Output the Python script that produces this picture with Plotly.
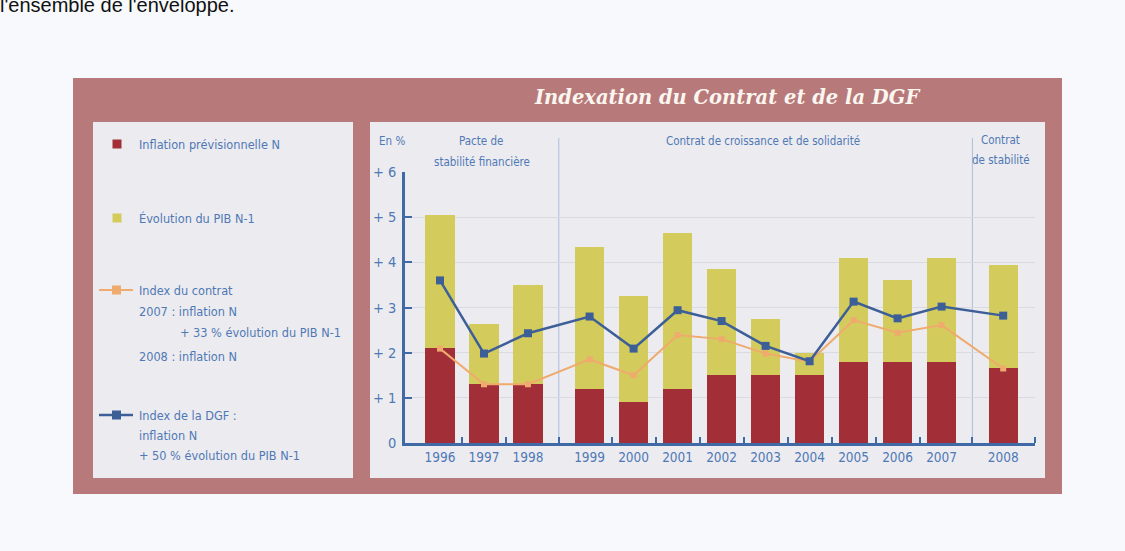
import plotly.graph_objects as go

# ---------------- data ----------------
years = ["1996", "1997", "1998", "1999", "2000", "2001", "2002",
         "2003", "2004", "2005", "2006", "2007", "2008"]
period = [0, 0, 0, 1, 1, 1, 1, 1, 1, 1, 1, 1, 2]
inflation = [2.1, 1.3, 1.3, 1.2, 0.9, 1.2, 1.5, 1.5, 1.5, 1.8, 1.8, 1.8, 1.65]
pib = [2.95, 1.33, 2.2, 3.15, 2.35, 3.45, 2.35, 1.25, 0.5, 2.3, 1.8, 2.3, 2.3]
index_contrat = [2.09, 1.3, 1.3, 1.85, 1.5, 2.39, 2.3, 1.98, 1.8, 2.72, 2.44, 2.61, 1.65]
index_dgf = [3.6, 1.98, 2.43, 2.8, 2.09, 2.94, 2.7, 2.15, 1.81, 3.13, 2.76, 3.02, 2.82]
y_ticks = [0, 1, 2, 3, 4, 5, 6]
y_labels = ["0", "+ 1", "+ 2", "+ 3", "+ 4", "+ 5", "+ 6"]

# ---------------- style ----------------
W, H = 1125, 551
L, R, T, B = 405, 1035, 172, 443
GAP = 0.4
FRAME = "#b7797a"
PANEL = "#ecebf0"
PAGE = "#f8f9fc"
RED = "#a22f37"
YELLOW = "#d3cc5c"
BLUE = "#3d5f97"
ORANGE = "#efab6e"
TXT = "#4f79b5"
AXIS = "#3f6aa6"
NARROW = "Liberation Sans Narrow, DejaVu Sans Condensed, Arial Narrow, sans-serif"

xpos = [i + GAP * p for i, p in enumerate(period)]
x_left = -35 / 44
x_right = x_left + (R - L) / 44


def X(px):
    return (px - L) / (R - L)


def Y(py):
    return (B - py) / (B - T)


fig = go.Figure()
fig.add_trace(go.Bar(x=xpos, y=inflation, marker_color=RED, width=0.66,
                     marker_line_width=0, name="Inflation prévisionnelle N"))
fig.add_trace(go.Bar(x=xpos, y=pib, marker_color=YELLOW, width=0.66,
                     marker_line_width=0, name="Évolution du PIB N-1"))
fig.add_trace(go.Scatter(x=xpos, y=index_contrat, mode="lines+markers",
                         line=dict(color=ORANGE, width=2),
                         marker=dict(symbol="square", size=6, color=ORANGE),
                         name="Index du contrat"))
fig.add_trace(go.Scatter(x=xpos, y=index_dgf, mode="lines+markers",
                         line=dict(color=BLUE, width=2.5),
                         marker=dict(symbol="square", size=8, color=BLUE),
                         name="Index de la DGF"))

shapes = []
# outer frame and panels
shapes.append(dict(type="rect", xref="paper", yref="paper", x0=X(73), x1=X(1062),
                   y0=Y(494), y1=Y(78), fillcolor=FRAME, line_width=0, layer="below"))
shapes.append(dict(type="rect", xref="paper", yref="paper", x0=X(93), x1=X(353),
                   y0=Y(478), y1=Y(122), fillcolor=PANEL, line_width=0, layer="below"))
shapes.append(dict(type="rect", xref="paper", yref="paper", x0=X(370), x1=X(1045),
                   y0=Y(478), y1=Y(122), fillcolor=PANEL, line_width=0, layer="below"))
# period separators (midway between groups)
seps = []
for i in range(1, len(xpos)):
    if period[i] != period[i - 1]:
        seps.append((xpos[i] + xpos[i - 1]) / 2)
for s in seps:
    shapes.append(dict(type="line", xref="x", yref="paper", x0=s, x1=s,
                       y0=0, y1=Y(138), line=dict(color="#a9bfdc", width=1), layer="below"))

# legend symbols
shapes.append(dict(type="rect", xref="paper", yref="paper", x0=X(112.5), x1=X(121.5),
                   y0=Y(148.5), y1=Y(139.5), fillcolor=RED, line_width=0))
shapes.append(dict(type="rect", xref="paper", yref="paper", x0=X(112.5), x1=X(121.5),
                   y0=Y(222.5), y1=Y(213.5), fillcolor=YELLOW, line_width=0))
shapes.append(dict(type="line", xref="paper", yref="paper", x0=X(99), x1=X(133),
                   y0=Y(290), y1=Y(290), line=dict(color=ORANGE, width=2)))
shapes.append(dict(type="rect", xref="paper", yref="paper", x0=X(112), x1=X(121),
                   y0=Y(294.5), y1=Y(285.5), fillcolor=ORANGE, line_width=0))
shapes.append(dict(type="line", xref="paper", yref="paper", x0=X(99), x1=X(133),
                   y0=Y(415), y1=Y(415), line=dict(color=BLUE, width=2.5)))
shapes.append(dict(type="rect", xref="paper", yref="paper", x0=X(112), x1=X(121),
                   y0=Y(419.5), y1=Y(410.5), fillcolor=BLUE, line_width=0))

ann = []


def text(s, px, py, size=12.6, anchor="left", color=TXT, family=NARROW):
    ann.append(dict(text=s, xref="paper", yref="paper", x=X(px), y=Y(py),
                    xanchor=anchor, yanchor="middle", showarrow=False,
                    font=dict(family=family, size=size, color=color)))


# title
ann.append(dict(text="<b><i>Indexation du Contrat et de la DGF</i></b>", xref="paper", yref="paper",
                x=X(727), y=Y(98), xanchor="center", yanchor="middle", showarrow=False,
                font=dict(family="DejaVu Serif, Liberation Serif, serif", size=19.5, color="#fbf6ef")))
# cut-off text at very top of the page
ann.append(dict(text="l'ensemble de l'enveloppe.", xref="paper", yref="paper",
                x=X(-2), y=Y(5), xanchor="left", yanchor="middle", showarrow=False,
                font=dict(family="Liberation Sans, Arial, sans-serif", size=20, color="#111111")))

# legend texts
text("Inflation prévisionnelle N", 137, 144)
text("Évolution du PIB N-1", 137, 218)
text("Index du contrat", 137, 290)
text("2007 : inflation N", 137, 311.5)
text("+ 33 % évolution du PIB N-1", 178, 332.5)
text("2008 : inflation N", 137, 356)
text("Index de la DGF :", 137, 415)
text("inflation N", 137, 435)
text("+ 50 % évolution du PIB N-1", 137, 455)

# header texts
HS = 11.5
text("En %", 392, 141, size=HS, anchor="center")
text("Pacte de", 481, 141, size=HS, anchor="center")
text("stabilité financière", 482, 162, size=HS, anchor="center")
text("Contrat de croissance et de solidarité", 763, 141, size=HS, anchor="center")
text("Contrat", 1000, 140, size=HS, anchor="center")
text("de stabilité", 1001, 160, size=HS, anchor="center")

# boundary ticks on the x axis
bounds = [(xpos[i] + xpos[i + 1]) / 2 for i in range(len(xpos) - 1)] + [x_right]

fig.update_layout(
    width=W, height=H,
    margin=dict(l=L, r=W - R, t=T, b=H - B, pad=0),
    paper_bgcolor=PAGE, plot_bgcolor="rgba(0,0,0,0)",
    barmode="stack", showlegend=False,
    shapes=shapes, annotations=ann,
    xaxis=dict(range=[x_left, x_right], tickvals=xpos, ticktext=years,
               showgrid=False, zeroline=False, showline=True, linecolor=AXIS, linewidth=2.5,
               ticks="", tickfont=dict(family=NARROW, size=13.5, color=TXT),
               minor=dict(tickvals=bounds, ticks="inside", ticklen=6, tickcolor=AXIS, tickwidth=2,
                          showgrid=False),
               fixedrange=True),
    yaxis=dict(range=[0, 6], tickvals=y_ticks, ticktext=y_labels,
               showgrid=True, gridcolor="#dadae3", gridwidth=1, zeroline=False,
               showline=True, linecolor=AXIS, linewidth=2.5,
               ticks="inside", ticklen=7, tickcolor=AXIS, tickwidth=2,
               ticklabelstandoff=3,
               tickfont=dict(family=NARROW, size=14.5, color=TXT), fixedrange=True),
)

fig.write_html("out.html", config={"displayModeBar": False},
               post_script="document.body.style.margin='0';document.body.style.overflow='hidden';")
